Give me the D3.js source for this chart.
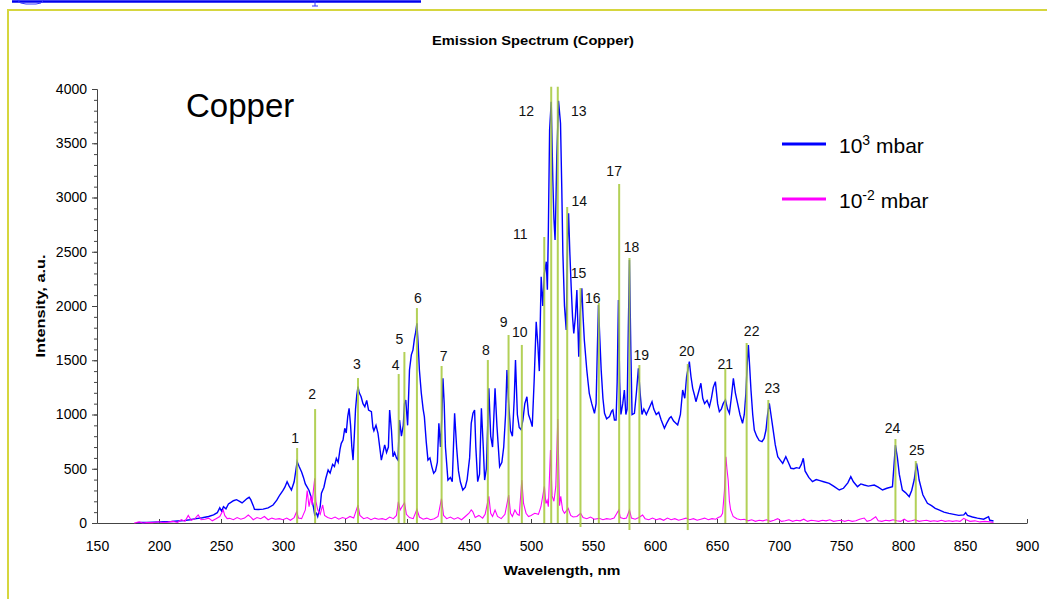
<!DOCTYPE html>
<html>
<head>
<meta charset="utf-8">
<script src="https://cdn.jsdelivr.net/npm/d3@7"></script>
<style>
  body { margin: 0; background: #fff; }
  svg { display: block; font-family: "Liberation Sans", Arial, sans-serif; }
</style>
</head>
<body>
<svg id="chart" width="1047" height="599"></svg>
<script>
// ---- data ----
// blue trace, 10^3 mbar: [wavelength nm, intensity]
const highPressure = [
  [182,3],[186,6],[190,4],[195,8],[200,10],[205,12],[210,14],[215,18],[220,22],[225,30],
  [230,40],[235,48],[240,60],[244,75],[247,95],[249,140],[250.5,110],[252,150],[254,130],[256,175],
  [258,190],[260,205],[262.5,215],[265,200],[267,185],[269,205],[271,225],[272.7,237],[274,215],[276,160],
  [277,126],[280,125],[284,128],[288,140],[292,166],[295,210],[297.4,258],[300,300],[301.5,330],[303.3,381],
  [305,340],[306.8,304],[309,380],[311.4,565],[313,520],[315,470],[316.5,420],[318,360],[319.5,330],[321,300],
  [323,228],[324.5,150],[325.6,74],[327,89],[328,58],[330,150],[331,274],[333,330],[334.5,410],[336.4,488],
  [338,460],[340,540],[341.5,520],[343,596],[344.5,560],[346,680],[347,734],[348.4,765],[349.8,873],[351,830],
  [352.2,980],[353.3,1057],[354.5,900],[355.5,700],[356.5,580],[357.5,800],[358.5,1050],[359.5,1180],[360.5,1256],[361.5,1200],
  [363,1164],[364.5,1100],[366,1072],[367.5,1130],[369,1040],[371.3,1026],[372.5,880],[373.3,850],[375,900],[376.6,827],
  [378,700],[379.3,580],[380.5,640],[382,720],[383.5,650],[385,700],[386,1041],[387.5,850],[388.7,611],[390,650],
  [391.5,600],[392.7,580],[394,949],[395.5,800],[397,900],[398,1100],[399,1134],[400.5,900],[402,1410],[403.5,1550],
  [404.8,1594],[406,1700],[407,1760],[408,1840],[409,1650],[410,1410],[411.5,1200],[413,1050],[414,980],[415.5,750],
  [416.9,580],[418.5,600],[420,520],[421.5,458],[423,480],[424.5,560],[425.7,919],[427,700],[428,950],[429,1334],
  [430,1100],[431,700],[433,396],[435,420],[436.5,380],[438.4,1011],[440,700],[441.5,480],[443,380],[445,304],
  [447,330],[448.5,400],[450.5,600],[451.8,919],[453.2,1011],[454.5,1041],[455.5,700],[457,381],[458.5,450],[460,1057],
  [461.5,700],[462.6,396],[464,500],[466,1241],[467.5,800],[469,700],[471,1241],[472.5,900],[474.7,519],[476.5,560],
  [478,700],[479.5,1000],[480.6,1410],[482,1100],[483.5,850],[485,800],[486.5,1150],[487.5,1502],[489,1000],[490.5,880],
  [492,860],[493.5,950],[495,1100],[496.7,1164],[498,1000],[499.5,950],[501,888],[502.5,1300],[504.2,1855],[505.5,1650],
  [506.7,1400],[508.2,2270],[509.5,2000],[510.8,2300],[512.3,2408],[513.2,2150],[514,2700],[515,3622],[516.3,3883],[517.6,3161],
  [518.5,2800],[519.4,2608],[520.2,3000],[520.8,3376],[522.2,3892],[523.8,3684],[524.8,3100],[525.7,2486],[527,2000],[528.4,1779],
  [529.5,2600],[530.3,2854],[531.3,2500],[532.4,2178],[533.5,1900],[534.5,1748],[535.8,1900],[537,2147],[538.5,1533],[539.5,1900],
  [541,2163],[542,1900],[543,1687],[545,1410],[546,1300],[547,1195],[549,1100],[551.2,1011],[552.5,1100],[553.5,1600],
  [554.4,2009],[555.5,1700],[556.6,1410],[558,1150],[559.3,1011],[561,960],[563.3,980],[565,1030],[566,1041],[567.3,949],
  [568.6,949],[569.5,1300],[570.5,2055],[571.5,1300],[572.5,1000],[574,1100],[575.3,1226],[576.5,1000],[577.5,1050],[578.5,1800],
  [579.4,2424],[580.5,1600],[581.5,1000],[583.4,1011],[585,1200],[586.6,1426],[588,1200],[589.5,1000],[591,1050],[593,1000],
  [595,1050],[597.6,1118],[599,1050],[601,1000],[603,1020],[605,950],[607.6,873],[609.5,920],[611.6,965],[613,980],
  [615,940],[618.3,903],[620.5,1000],[622.3,1226],[624,1150],[625.5,1350],[627.7,1487],[629,1350],[630.4,1241],[631.8,1180],
  [633,1118],[635,1200],[637,1288],[638.5,1150],[640,1100],[642,1130],[643.9,1072],[645.5,1150],[647,1250],[648.7,1303],
  [650.5,1100],[651.9,1026],[653.5,1050],[655,1100],[656.8,1134],[658.5,1050],[660,1011],[661.5,1150],[663.2,1334],[664.8,1200],
  [666.6,1103],[668.5,1000],[670.6,919],[672,1000],[673.3,1195],[674.3,1450],[675.3,1641],[676.3,1450],[677.4,1226],[678.8,1000],
  [680.1,857],[682,800],[684,760],[686.3,749],[688,780],[689.5,857],[690.8,1000],[692.2,1103],[693.5,1000],[694.9,888],
  [697,720],[699,611],[701,580],[703,550],[705.5,611],[707.5,560],[709.6,504],[712,500],[714,510],[716.4,504],
  [718,540],[719.6,596],[721,480],[724,420],[727,381],[730,400],[733,390],[736,380],[740.5,366],[744,340],
  [748.6,304],[752,320],[755.5,370],[757.9,427],[760,380],[763.3,335],[766,360],[768.7,350],[772,340],[776.8,350],
  [780,330],[783.5,304],[787,320],[791.5,335],[793.9,719],[795.5,600],[797,450],[799.5,304],[802,280],[805,243],
  [807,300],[809,396],[810.9,550],[812,480],[813,396],[816,260],[819.7,182],[823,160],[826,135],[829,120],
  [833,100],[837,89],[841,80],[845,70],[849,75],[850.5,95],[852,70],[856,55],[860,45],[865,35],
  [869,58],[870,25],[873,18]
];

// magenta trace, 10^-2 mbar
const lowPressure = [
  [180,0],[184,10],[187,0],[190,5],[195,3],[199,12],[203,5],[207,8],[211,15],[215,5],
  [218,30],[221,15],[223.6,70],[226,25],[229,40],[231.6,74],[234,30],[237,35],[240,45],[243,20],
  [246,40],[249,60],[251.8,120],[253,70],[255,40],[257,43],[260,30],[263,50],[266,35],[269,45],
  [272,74],[274,55],[276,30],[279,50],[282,40],[285,60],[288,30],[291,45],[294,35],[297,40],
  [300,30],[303,45],[306,25],[309,50],[311,104],[312.5,45],[315,40],[318,120],[319.5,300],[321,150],
  [322.5,250],[323.5,166],[324.5,300],[325.6,412],[326.5,200],[328,120],[330,80],[332,166],[333.5,70],[336,50],
  [339,40],[342,55],[345,35],[348,50],[351,40],[354,60],[357,45],[360.5,166],[362,70],[365,40],
  [368,50],[371,30],[374,45],[377,35],[380,40],[383,30],[386,55],[389,40],[391.5,70],[393,196],
  [394.5,120],[396,150],[398,187],[399.5,80],[402,50],[405,40],[408,126],[410,55],[413,35],[416,45],
  [419,30],[422,40],[425,60],[427.8,224],[429.5,70],[432,40],[435,55],[438,35],[441,50],[444,30],
  [447,60],[450,90],[451.8,120],[453,105],[455,50],[458,70],[461,45],[463,80],[466,245],[467.5,90],
  [469,60],[471,120],[473,60],[476,40],[479,80],[482,258],[483.5,90],[485,60],[487,120],[489,80],
  [490.5,70],[492.6,396],[494,180],[496,90],[498,60],[500,70],[503,90],[506,80],[508,150],[510.8,337],
  [512,180],[513,210],[514,150],[515.7,673],[517,250],[518.5,200],[520,337],[521.6,958],[523,160],[524,245],
  [525.5,120],[527,90],[528,105],[530,135],[532,70],[534,55],[537,60],[540,90],[542,50],[545,40],
  [548,55],[551,35],[555,43],[558,30],[561,40],[564,35],[567,45],[570.8,120],[572,50],[575,40],
  [577,45],[579.4,120],[581,45],[584,35],[587,50],[590,74],[592,40],[595,30],[598,45],[601,30],
  [604,40],[607,25],[610,45],[613,30],[616,40],[619,25],[622,35],[625,45],[628,30],[631,40],
  [634,25],[637,35],[640,45],[643,30],[646,40],[649,35],[651,50],[653,60],[654.5,90],[656,300],
  [657.2,611],[658,500],[659,396],[660,200],[661,120],[663,60],[666,40],[669,30],[672,35],[675,20],
  [678,30],[681,15],[684,25],[687,20],[690,30],[693,15],[696,25],[699,40],[702,15],[705,20],
  [708,30],[711,15],[714,25],[717,20],[720,35],[723,15],[726,25],[729,20],[732,15],[735,25],
  [738,20],[741,30],[744,15],[747,20],[750,25],[753,15],[756,25],[759,15],[762,20],[765,35],
  [768.7,46],[771,15],[774,25],[778,58],[780,20],[783,15],[786,25],[789,20],[792,30],[795,20],
  [798,15],[801,35],[804,15],[807,20],[810,30],[813,15],[816,20],[819,25],[822,15],[825,20],
  [828,15],[831,25],[834,15],[837,20],[840,15],[843,20],[846,15],[849,43],[851,30],[854,15],
  [858,20],[862,10],[866,15],[870,10],[873,5]
];

// identified Cu lines (green markers)
const lineNames = d3.range(1, 26).map(String);
const lineNm = [311.4, 325.9, 360.5, 393.3, 397.9, 408.0, 427.9, 465.2, 481.9, 492.6,
                510.7, 516.3, 521.6, 529.2, 539.9, 554.7, 571.1, 579.4, 587.4, 626.4,
                656.7, 673.9, 691.4, 793.9, 810.3];
const lineTop = [691, 1050, 1336, 1373, 1576, 1981, 1447, 1502, 1733, 1641,
                 2636, 4020, 4020, 2912, 2166, 2028, 3124, 2442, 1456, 1465,
                 1429, 1659, 1134, 774, 571];
const lineBottom = [0, 0, 0, 0, 0, 0, 0, 0, 0, 0, 0, 0, 0, 0, -37, 0, 0, -65, 0, -65,
                    0, 0, 0, 0, 0];

const xTicks = d3.range(150, 901, 50);
const yTicks = d3.range(0, 4001, 500);
const yMinor = d3.range(0, 4001, 100);

const seriesNames = ["10|3| mbar", "10|-2| mbar"];

// ---- layout ----
const plotLeft = 97, plotRight = 1027, plotTop = 89, plotBottom = 523;
// label offsets from the top of each marker, px
const labelOffset = [[-2,-10],[-3,-15],[-1,-14],[-3,-9],[-5,-13],[1,-10],[2,-10],[-2,-10],[-5,-13],[-2,-13],
                     [-24,-3],[-25,24],[21,24],[12,-6],[-2,-15],[-6,-5],[-5,-13],[2,-11],[2,-10],[-1,-13],
                     [0,-4],[5,-12],[4,-12],[-3,-11],[1,-11]];

const svg = d3.select("#chart");

// outer frame and stray link underline
svg.append("rect").attr("x", 8).attr("y", 10).attr("width", 1100).attr("height", 700)
  .attr("fill", "none").attr("stroke", "#d6d63e").attr("stroke-width", 2);
svg.append("line").attr("x1", 12).attr("x2", 421).attr("y1", 1.5).attr("y2", 1.5)
  .attr("stroke", "#0000ee").attr("stroke-width", 2.5);
svg.append("path").attr("d", "M17,0 Q20,4 26,4 L36,4 Q42,4 44,0 M315,1 L315,6 M312,6 L318,6")
  .attr("fill", "none").attr("stroke", "#3333ff").attr("stroke-width", 1);

const x = d3.scaleLinear().domain([150, 900]).range([plotLeft, plotRight]);
const y = d3.scaleLinear().domain([0, 4000]).range([plotBottom, plotTop]);

// axes
svg.append("g").attr("transform", `translate(${plotLeft},0)`)
  .call(d3.axisLeft(y).tickValues(yTicks).tickSize(5).tickPadding(5).tickFormat(d3.format("d")));
svg.append("g").attr("transform", `translate(${plotLeft},0)`)
  .call(d3.axisLeft(y).tickValues(yMinor).tickSize(3).tickFormat(""))
  .select(".domain").remove();
svg.append("g").attr("transform", `translate(0,${plotBottom})`)
  .call(d3.axisBottom(x).tickValues(xTicks).tickSizeInner(-4).tickSizeOuter(0).tickPadding(18));

svg.selectAll(".tick text").attr("font-size", 14).attr("fill", "#000")
  .attr("font-family", "Liberation Sans, Arial, sans-serif");
svg.selectAll(".domain").attr("stroke", "#444");
svg.selectAll(".tick line").attr("stroke", "#444");

// spectra
const line = d3.line().x(d => x(d[0])).y(d => y(d[1]));
svg.append("path").datum(highPressure).attr("d", line)
  .attr("fill", "none").attr("stroke", "#0000ff").attr("stroke-width", 1.4);
svg.append("path").datum(lowPressure).attr("d", line)
  .attr("fill", "none").attr("stroke", "#ff00ff").attr("stroke-width", 1.1);

// green line markers
svg.append("g").selectAll("line").data(lineNm).join("line")
  .attr("x1", d => x(d)).attr("x2", d => x(d))
  .attr("y1", (d, i) => y(lineBottom[i])).attr("y2", (d, i) => y(lineTop[i]))
  .attr("stroke", "#a6c93a").attr("stroke-width", 2).attr("opacity", 0.85);

svg.append("g").selectAll("text").data(lineNm).join("text")
  .attr("x", (d, i) => x(d) + labelOffset[i][0])
  .attr("y", (d, i) => y(lineTop[i]) + labelOffset[i][1])
  .attr("text-anchor", "middle").attr("dominant-baseline", "central")
  .attr("font-size", 14).attr("fill", "#111")
  .text((d, i) => lineNames[i]);

// titles (stretched to the measured widths)
svg.append("text").attr("x", 533).attr("y", 45).attr("text-anchor", "middle")
  .attr("font-size", 13).attr("font-weight", "bold")
  .attr("textLength", 202).attr("lengthAdjust", "spacingAndGlyphs")
  .text("Emission Spectrum (Copper)");
svg.append("text").attr("x", (plotLeft + plotRight) / 2).attr("y", 575).attr("text-anchor", "middle")
  .attr("font-size", 13).attr("font-weight", "bold")
  .attr("textLength", 117).attr("lengthAdjust", "spacingAndGlyphs")
  .text("Wavelength, nm");
svg.append("text").attr("transform", `translate(45,${(plotTop + plotBottom) / 2}) rotate(-90)`)
  .attr("text-anchor", "middle").attr("font-size", 13).attr("font-weight", "bold")
  .attr("textLength", 103).attr("lengthAdjust", "spacingAndGlyphs")
  .text("Intensity, a.u.");
svg.append("text").attr("x", 186).attr("y", 117).attr("font-size", 33).text("Copper");

// legend
const legendColors = ["#0000ff", "#ff00ff"];
const leg = svg.append("g").selectAll("g").data(seriesNames).join("g")
  .attr("transform", (d, i) => `translate(782,${144 + i * 55})`);
leg.append("line").attr("x1", 0).attr("x2", 44)
  .attr("stroke", (d, i) => legendColors[i]).attr("stroke-width", 3);
leg.each(function (d) {
  const parts = d.split("|");
  const t = d3.select(this).append("text").attr("x", 57).attr("y", 9).attr("font-size", 21);
  t.append("tspan").text(parts[0]);
  t.append("tspan").attr("font-size", 14).attr("dy", -8).text(parts[1]);
  t.append("tspan").attr("dy", 8).text(parts[2]);
});
</script>
</body>
</html>
